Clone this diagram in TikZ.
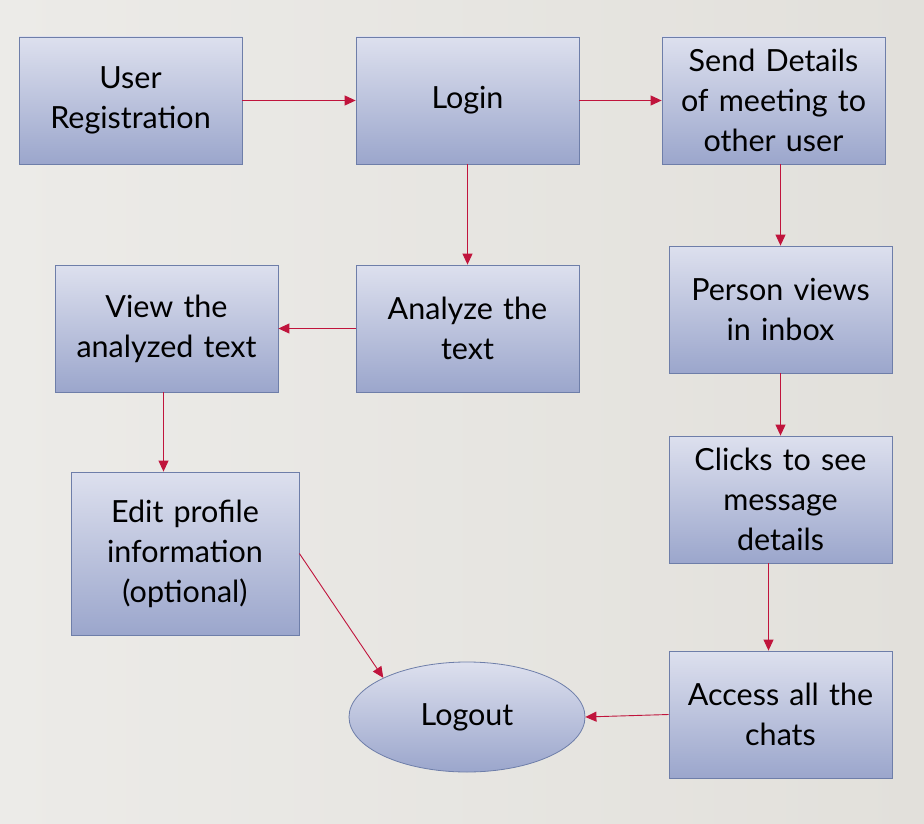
\documentclass[tikz,border=0pt]{standalone}
\usepackage{fontspec}
\setmainfont{Lato}
\usetikzlibrary{arrows.meta}
\usetikzlibrary{shapes.geometric}
\definecolor{boxtop}{HTML}{DDE0EE}
\definecolor{boxbot}{HTML}{9BA6CC}
\definecolor{boxline}{HTML}{6E7EA9}
\definecolor{arrowred}{HTML}{C0143C}
\definecolor{bgleft}{HTML}{ECEBE8}
\definecolor{bgright}{HTML}{E2E0DB}
\begin{document}
\begin{tikzpicture}[x=1pt,y=-1pt,
	stepbox/.style={rectangle,draw=boxline,line width=0.8pt,top color=boxtop,bottom color=boxbot,
		minimum width=223pt,minimum height=127pt,text width=219pt,align=center,inner sep=0pt,
		font=\fontsize{30.5}{40}\selectfont},
	endbox/.style={ellipse,draw=boxline,line width=0.8pt,top color=boxtop,bottom color=boxbot,
		minimum width=236pt,minimum height=110pt,inner sep=0pt,font=\fontsize{30.5}{40}\selectfont},
	link/.style={draw=arrowred,line width=0.9pt,-{Triangle[length=11pt,width=10pt]}}]
\shade[left color=bgleft,right color=bgright] (0,0) rectangle (924,824);
\useasboundingbox (0,0) rectangle (924,824);
%top row
\node[stepbox] (reg) at (130.5,100.5) {User\\Registration};
\node[stepbox] (login) at (467.5,100.5) {Login};
\node[stepbox] (send) at (773.5,100.5) {Send Details\\of meeting to\\other user};
%right column
\node[stepbox] (person) at (780.5,309.5) {Person views\\in inbox};
\node[stepbox] (clicks) at (780.5,499.5) {Clicks to see\\message\\details};
\node[stepbox] (access) at (780.5,714.5) {Access all the\\chats};
%left part
\node[stepbox] (analyze) at (467.5,328.5) {Analyze the\\text};
\node[stepbox] (view) at (166.5,328.5) {View the\\analyzed text};
\node[stepbox,minimum width=228pt,minimum height=163pt] (edit) at (185,553.5) {Edit profile\\information\\(optional)};
\node[endbox] (logout) at (467,717) {Logout};
%arrows
\draw[link] (reg) -- (login);
\draw[link] (login) -- (send);
\draw[link] (login) -- (analyze);
\draw[link] (send.south -| person.north) -- (person.north);
\draw[link] (person) -- (clicks);
\draw[link] ([xshift=-12pt]clicks.south) -- ([xshift=-12pt]access.north);
\draw[link] (access.west) -- (logout.east);
\draw[link] (analyze) -- (view);
\draw[link] ([xshift=-3pt]view.south) -- ([xshift=-3pt]view.south |- edit.north);
\draw[link] (edit.east) -- (logout.north west);
\end{tikzpicture}
\end{document}
